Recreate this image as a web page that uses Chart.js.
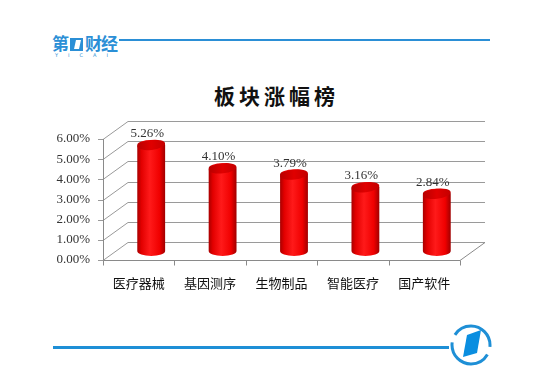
<!DOCTYPE html>
<html>
<head>
<meta charset="utf-8">
<script src="https://cdn.jsdelivr.net/npm/chart.js@4/dist/chart.umd.min.js"></script>
<style>
    body { margin: 0; background: #fff; width: 553px; height: 384px; overflow: hidden; position: relative; }
    #c { position: absolute; left: 0; top: 0; }
    .abs { position: absolute; }
    #title { left: 0; width: 553px; top: 80px; text-align: center; font: 700 21px "Noto Sans CJK SC"; letter-spacing: 4px; color: #111; }
    #logo-txt { left: 52px; top: 33px; font: 700 17px "Noto Sans CJK SC"; color: #2b8fd6; letter-spacing: -1px; line-height: 20px; background: #fff; padding-right: 2px; }
    #logo-sub { left: 55px; top: 52px; font: 5px "DejaVu Sans"; color: #2b8fd6; letter-spacing: 10px; }
</style>
</head>
<body>
<div class="abs" style="left:106px;top:39px;width:384px;height:2px;background:#2b8fd6;"></div>
<div class="abs" id="logo-txt">第<svg width="15" height="14" style="vertical-align:-1px;margin:0 1px"><rect x="1" y="1" width="13" height="13" fill="#2b8fd6"/><polygon points="5,12 7,3 12,3 10,12" fill="#fff"/></svg>财经</div>
<div class="abs" id="logo-sub">YICAI</div>
<div class="abs" id="title">板块涨幅榜</div>
<div class="abs" style="left:53px;top:346px;width:396px;height:3px;background:#1e8fd6;"></div>
<svg class="abs" style="left:448px;top:322px" width="46" height="46">
    <circle cx="23" cy="23" r="19" fill="none" stroke="#1e8fd6" stroke-width="3" stroke-dasharray="52 8 52 8" stroke-dashoffset="-10"/>
    <polygon points="15,35 19,13 33,8 29,31" fill="#0a8ee0"/>
</svg>
<canvas id="c" width="553" height="384"></canvas>
<script>
const categories = ['医疗器械', '基因测序', '生物制品', '智能医疗', '国产软件'];
const gains = [5.26, 4.10, 3.79, 3.16, 2.84];
const yTickLabels = ['0.00%', '1.00%', '2.00%', '3.00%', '4.00%', '5.00%', '6.00%'];

const depth = { dx: 25, dy: -18 };

// back wall, side wall and floor lines of the 3d box
const frame3d = {
    id: 'frame3d',
    beforeDatasetsDraw(chart) {
        const { ctx, chartArea: a, scales: { x, y } } = chart;
        ctx.save();
        ctx.lineWidth = 1;
        ctx.strokeStyle = '#9a9a9a';
        y.ticks.forEach(t => {
            const py = Math.round(y.getPixelForValue(t.value)) + 0.5;
            ctx.beginPath();
            ctx.moveTo(a.left - 5, py);
            ctx.lineTo(a.left, py);
            ctx.lineTo(a.left + depth.dx, py + depth.dy);
            ctx.lineTo(a.right + depth.dx, py + depth.dy);
            ctx.stroke();
        });
        const bottom = Math.round(y.getPixelForValue(0)) + 0.5;
        ctx.strokeStyle = '#8a8a8a';
        ctx.beginPath();
        ctx.moveTo(a.left + 0.5, Math.round(y.getPixelForValue(6)));
        ctx.lineTo(a.left + 0.5, bottom);
        ctx.lineTo(a.right, bottom);
        ctx.lineTo(a.right + depth.dx, bottom + depth.dy);
        ctx.stroke();
        // category boundary ticks
        for (let i = 0; i <= categories.length; i++) {
            const px = Math.round(x.getPixelForValue(i - 0.5)) + 0.5;
            ctx.beginPath();
            ctx.moveTo(px, bottom);
            ctx.lineTo(px, bottom + 5);
            ctx.stroke();
        }
        ctx.restore();
    }
};

// red cylinders drawn on top of the (invisible) bar elements
const cylinders = {
    id: 'cylinders',
    afterDatasetsDraw(chart) {
        const ctx = chart.ctx;
        const meta = chart.getDatasetMeta(0);
        ctx.save();
        meta.data.forEach((bar, i) => {
            const cx = bar.x + depth.dx / 2;
            const rx = bar.width / 2;
            const ry = 5;
            const top = bar.y + depth.dy / 2;
            const base = bar.base + depth.dy / 2;

            const g = ctx.createLinearGradient(cx - rx, 0, cx + rx, 0);
            g.addColorStop(0, '#a80000');
            g.addColorStop(0.15, '#e20000');
            g.addColorStop(0.45, '#ff1a1a');
            g.addColorStop(0.8, '#f00000');
            g.addColorStop(1, '#a00000');

            ctx.beginPath();
            ctx.moveTo(cx - rx, top);
            ctx.lineTo(cx - rx, base);
            ctx.ellipse(cx, base, rx, ry, 0, Math.PI, 0, true);
            ctx.lineTo(cx + rx, top);
            ctx.ellipse(cx, top, rx, ry, 0, 0, Math.PI, true);
            ctx.closePath();
            ctx.fillStyle = g;
            ctx.fill();

            const tg = ctx.createLinearGradient(cx - rx, top, cx + rx, top);
            tg.addColorStop(0, '#b80000');
            tg.addColorStop(0.5, '#e00000');
            tg.addColorStop(1, '#c40000');
            ctx.beginPath();
            ctx.ellipse(cx, top, rx, ry, -0.12, 0, Math.PI * 2);
            ctx.fillStyle = tg;
            ctx.fill();

            ctx.fillStyle = '#333';
            ctx.font = '13px "Liberation Serif"';
            ctx.textAlign = 'center';
            ctx.textBaseline = 'alphabetic';
            ctx.fillText(gains[i].toFixed(2) + '%', cx - 4, top - 8);
        });
        ctx.restore();
    }
};

new Chart(document.getElementById('c'), {
    type: 'bar',
    data: {
        labels: categories,
        datasets: [{
            data: gains,
            backgroundColor: 'rgba(0,0,0,0)',
            borderWidth: 0,
            categoryPercentage: 1,
            barPercentage: 0.39
        }]
    },
    options: {
        responsive: false,
        animation: false,
        devicePixelRatio: 1,
        layout: { padding: { top: 139, right: 93, left: 0, bottom: 0 } },
        plugins: { legend: { display: false }, tooltip: { enabled: false } },
        scales: {
            x: {
                grid: { display: false, drawTicks: false },
                border: { display: false },
                afterFit: s => { s.height = 124; },
                ticks: { padding: 15, color: '#111', font: { family: 'Noto Sans CJK SC', size: 13 } }
            },
            y: {
                min: 0,
                max: 6,
                grid: { display: false, drawTicks: false },
                border: { display: false },
                afterFit: s => { s.width = 103; },
                ticks: {
                    stepSize: 1,
                    padding: 13,
                    color: '#333',
                    font: { family: 'Liberation Serif', size: 13 },
                    callback: (v, i) => yTickLabels[i]
                }
            }
        }
    },
    plugins: [frame3d, cylinders]
});
</script>
</body>
</html>
